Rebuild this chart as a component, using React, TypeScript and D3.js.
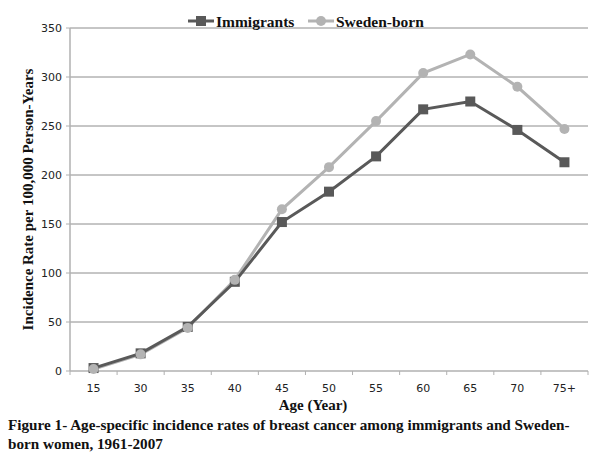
import React, { useEffect, useRef } from 'react';
import * as d3 from 'd3';

const ages = ['15', '30', '35', '40', '45', '50', '55', '60', '65', '70', '75+'];
const immigrants = [3, 18, 45, 91, 152, 183, 219, 267, 275, 246, 213];
const swedenBorn = [2, 17, 44, 93, 165, 208, 255, 304, 323, 290, 247];
const yTicks = [0, 50, 100, 150, 200, 250, 300, 350];

const App: React.FC = () => {
  const ref = useRef<SVGSVGElement>(null);

  useEffect(() => {
    if (!ref.current) return;
    const svg = d3.select(ref.current);
    svg.selectAll('*').remove();

    // zone du tracé
    const left = 70, right = 588, top = 28, bottom = 371;

    const x = d3.scaleBand<string>().domain(ages).range([left, right]);
    const y = d3.scaleLinear().domain([0, 350]).range([bottom, top]);

    // grille
    svg.append('g')
      .selectAll('line')
      .data(yTicks.slice(1))
      .enter()
      .append('line')
      .attr('x1', left)
      .attr('x2', right)
      .attr('y1', d => y(d))
      .attr('y2', d => y(d))
      .attr('stroke', '#8c8c8c')
      .attr('stroke-width', 1);

    // axe y
    svg.append('line')
      .attr('x1', left).attr('x2', left)
      .attr('y1', top).attr('y2', bottom)
      .attr('stroke', '#b0b0b0').attr('stroke-width', 1.5);
    svg.append('g')
      .selectAll('line')
      .data(yTicks)
      .enter()
      .append('line')
      .attr('x1', left - 4).attr('x2', left)
      .attr('y1', d => y(d)).attr('y2', d => y(d))
      .attr('stroke', '#b0b0b0');
    svg.append('g')
      .selectAll('text')
      .data(yTicks)
      .enter()
      .append('text')
      .attr('x', left - 8)
      .attr('y', d => y(d))
      .attr('dy', '0.35em')
      .attr('text-anchor', 'end')
      .attr('font-family', 'DejaVu Sans')
      .attr('font-size', 11)
      .attr('fill', '#222')
      .text(d => d);

    // axe x
    svg.append('line')
      .attr('x1', left).attr('x2', right)
      .attr('y1', bottom).attr('y2', bottom)
      .attr('stroke', '#b0b0b0').attr('stroke-width', 1.5);
    const bounds = ages.map(a => x(a)!).concat([right]);
    svg.append('g')
      .selectAll('line')
      .data(bounds)
      .enter()
      .append('line')
      .attr('x1', d => d).attr('x2', d => d)
      .attr('y1', bottom).attr('y2', bottom + 4)
      .attr('stroke', '#b0b0b0');
    svg.append('g')
      .selectAll('text')
      .data(ages)
      .enter()
      .append('text')
      .attr('x', d => x(d)! + x.bandwidth() / 2)
      .attr('y', bottom + 17)
      .attr('dy', '0.35em')
      .attr('text-anchor', 'middle')
      .attr('font-family', 'DejaVu Sans')
      .attr('font-size', 11)
      .attr('fill', '#222')
      .text(d => d);

    const cx = (i: number) => x(ages[i])! + x.bandwidth() / 2;
    const line = d3.line<number>().x((_, i) => cx(i)).y(d => y(d));

    // Sweden-born (dessous)
    svg.append('path')
      .datum(swedenBorn)
      .attr('d', line)
      .attr('fill', 'none')
      .attr('stroke', '#b3b3b3')
      .attr('stroke-width', 3);
    // Immigrants
    svg.append('path')
      .datum(immigrants)
      .attr('d', line)
      .attr('fill', 'none')
      .attr('stroke', '#595959')
      .attr('stroke-width', 3);
    svg.append('g')
      .selectAll('rect')
      .data(immigrants)
      .enter()
      .append('rect')
      .attr('x', (_, i) => cx(i) - 5)
      .attr('y', d => y(d) - 5)
      .attr('width', 10)
      .attr('height', 10)
      .attr('fill', '#595959');
    svg.append('g')
      .selectAll('circle')
      .data(swedenBorn)
      .enter()
      .append('circle')
      .attr('cx', (_, i) => cx(i))
      .attr('cy', d => y(d))
      .attr('r', 5)
      .attr('fill', '#b3b3b3');

    // légende
    const legend = [
      { name: 'Immigrants', color: '#595959', shape: 'rect', x: 188 },
      { name: 'Sweden-born', color: '#b3b3b3', shape: 'circle', x: 308 },
    ];
    const lg = svg.append('g');
    legend.forEach(l => {
      lg.append('line')
        .attr('x1', l.x).attr('x2', l.x + 26)
        .attr('y1', 21).attr('y2', 21)
        .attr('stroke', l.color).attr('stroke-width', 3);
      if (l.shape === 'rect') {
        lg.append('rect')
          .attr('x', l.x + 8).attr('y', 16)
          .attr('width', 10).attr('height', 10)
          .attr('fill', l.color);
      } else {
        lg.append('circle')
          .attr('cx', l.x + 13).attr('cy', 21).attr('r', 5)
          .attr('fill', l.color);
      }
      lg.append('text')
        .attr('x', l.x + 28)
        .attr('y', 27)
        .attr('font-family', 'Liberation Serif')
        .attr('font-weight', 'bold')
        .attr('font-size', 15.5)
        .attr('fill', '#111')
        .text(l.name);
    });

    // titres des axes
    svg.append('text')
      .attr('transform', `translate(33, ${(top + bottom) / 2}) rotate(-90)`)
      .attr('text-anchor', 'middle')
      .attr('font-family', 'Liberation Serif')
      .attr('font-weight', 'bold')
      .attr('font-size', 15)
      .attr('fill', '#111')
      .text('Incidence Rate per 100,000 Person-Years');
    svg.append('text')
      .attr('x', 313)
      .attr('y', 410)
      .attr('text-anchor', 'middle')
      .attr('font-family', 'Liberation Serif')
      .attr('font-weight', 'bold')
      .attr('font-size', 15)
      .attr('fill', '#111')
      .text('Age (Year)');

    // légende de figure
    const cap = svg.append('text')
      .attr('font-family', 'Liberation Serif')
      .attr('font-weight', 'bold')
      .attr('font-size', 15.2)
      .attr('fill', '#111');
    cap.append('tspan').attr('x', 8).attr('y', 430)
      .text('Figure 1- Age-specific incidence rates of breast cancer among immigrants and Sweden-');
    cap.append('tspan').attr('x', 8).attr('y', 449)
      .text('born women, 1961-2007');
  }, []);

  return (
    <svg ref={ref} width={600} height={475}
      style={{ position: 'absolute', left: 0, top: 0, background: '#fff' }} />
  );
};

export default App;
